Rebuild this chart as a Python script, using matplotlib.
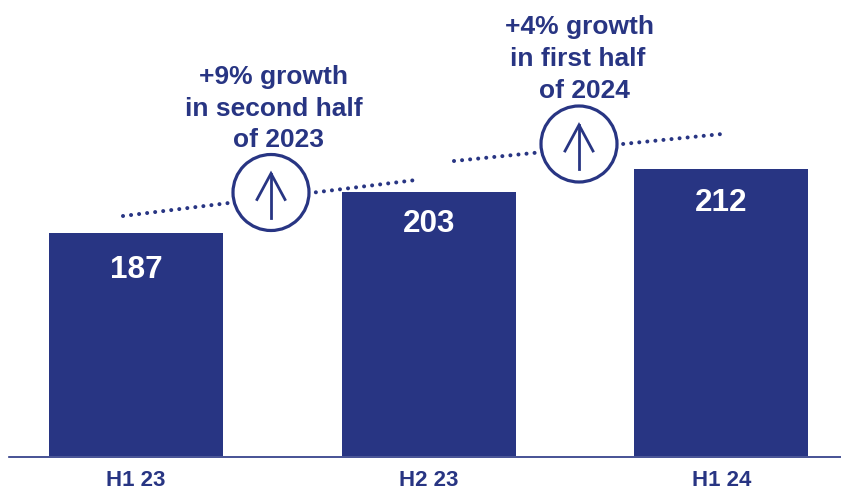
import matplotlib
matplotlib.use("Agg")
import matplotlib.pyplot as plt
from matplotlib.patches import Circle

plt.rcParams["font.family"] = ["Liberation Sans", "DejaVu Sans"]

periods = ["H1 23", "H2 23", "H1 24"]
values = [187, 203, 212]
NAVY = "#283583"

W, H = 841, 493
fig = plt.figure(figsize=(W / 100, H / 100), dpi=100)

# Pixel-Ebene fuer Beschriftung und Deko
ax = fig.add_axes([0, 0, 1, 1])
ax.set_xlim(0, W)
ax.set_ylim(H, 0)
ax.axis("off")

# Balken-Ebene: abgeschnittene Achse, Basis 100 liegt auf y=456 px
BASE_PX = 456
PX_PER_UNIT = 2.56
bars = fig.add_axes([0, 0, 1, 1], sharex=ax)
bars.set_ylim(100 - (H - BASE_PX) / PX_PER_UNIT, 100 + BASE_PX / PX_PER_UNIT)
bars.axis("off")
bars.patch.set_alpha(0)

centers = [136, 429, 721.5]
label_offset = [37, 32, 34]

for cx, v, lab, off in zip(centers, values, periods, label_offset):
    bars.bar(cx, v - 100, width=174, bottom=100, color=NAVY, linewidth=0)
    bars.annotate(str(v), (cx, v), xytext=(0, -off * 0.72), textcoords="offset points",
                  color="white", fontsize=22.7, fontweight="bold", ha="center", va="center")
    ax.text(cx, 480.5, lab, color=NAVY, fontsize=16, fontweight="bold",
            ha="center", va="center")

ax.plot([9, 841], [456.5, 456.5], color=NAVY, lw=1.2)


def growth(x0, y0, x1, y1, cx, cy, lines, line_x, line_y):
    ax.plot([x0, x1], [y0, y1], color=NAVY, lw=2.9, linestyle=(0, (0.01, 2)),
            dash_capstyle="round", zorder=2)
    ax.add_patch(Circle((cx, cy), 38, facecolor="white", edgecolor=NAVY, lw=2.3, zorder=3))
    ax.plot([cx, cx], [cy - 19, cy + 25], color=NAVY, lw=2, zorder=4)
    ax.plot([cx - 14, cx, cx + 14], [cy + 7, cy - 19, cy + 7], color=NAVY, lw=2,
            solid_joinstyle="miter", zorder=4)
    for s, tx, ty in zip(lines, line_x, line_y):
        ax.text(tx, ty, s, color=NAVY, fontsize=19, fontweight="bold", ha="center", va="center")


growth(123, 216, 416, 180, 271, 192.5,
       ["+9% growth", "in second half", "of 2023"], [274, 274, 278.5], [77, 108.5, 140])
growth(454, 161, 722, 134, 579, 144,
       ["+4% growth", "in first half", "of 2024"], [580, 578, 584], [27, 59, 90.5])

fig.savefig("out.png", dpi=100)
